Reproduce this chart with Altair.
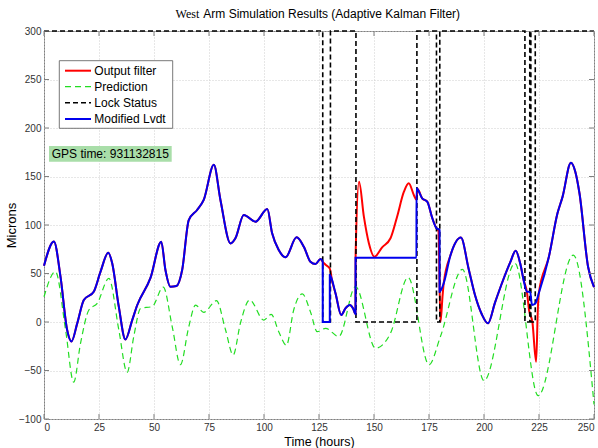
import altair as alt
import pandas as pd

# ---------------- data ----------------
blue_t = [0, 4.5, 7.5, 10.5, 12.5, 15.1, 18.1, 22.6, 25.7, 29.2, 31, 34, 37, 40.1, 42.4, 48.4, 53.3, 55.2,
          57.5, 60.2, 62.8, 65.8, 69.6, 72.6, 77.2, 80.2, 84.8, 87, 90.8, 96.1, 101.5, 103.7, 106.7, 109.8,
          114.8, 118.1, 121.1, 123.4, 125.7, 126.7, 126.71, 129.9, 129.91, 132.5, 135.1, 137, 139, 140.5,
          141.6, 141.61, 169.3, 169.31, 171.9, 174.2, 176.5, 178.4, 179.8, 179.81, 181.7, 184.8, 189.5, 193,
          196, 199, 201.8, 205, 208.7, 212, 214.4, 216.5, 218, 219.5, 221, 221.8, 223.3, 224.9, 229.5, 233.4,
          235.7, 239.5, 241.5, 243.4, 247.3, 250]
blue_v = [58, 83, 46.7, -8, -20, -1.4, 22.7, 31.2, 51.9, 71.4, 60.5, 15.8, -18, 2, 17.5, 45.4, 82.8, 53.6,
          36.4, 37.1, 53.6, 105, 115.5, 125.8, 162, 125.8, 81, 86.3, 110.3, 103.4, 116.5, 91.4, 74.2, 66.7,
          87.3, 77.6, 62.2, 59.8, 65, 62, 0, 0, 48.5, 29.6, 7.2, 14, 17.5, 14,
          8.2, 66.3, 66.3, 137.8, 127.5, 124, 107, 96.6, 95, 31.2, 40, 69, 87, 55,
          27, 8, -1.4, 20, 43.3, 62, 73.5, 60, 43.3, 31.2, 31, 17.5, 19, 29.6, 67.3, 112,
          129, 164.2, 155, 132.7, 57, 36]

red_t = [0, 4.5, 7.5, 10.5, 12.5, 15.1, 18.1, 22.6, 25.7, 29.2, 31, 34, 37, 40.1, 42.4, 48.4, 53.3, 55.2,
         57.5, 60.2, 62.8, 65.8, 69.6, 72.6, 77.2, 80.2, 84.8, 87, 90.8, 96.1, 101.5, 103.7, 106.7, 109.8,
         114.8, 118.1, 121.1, 123.4, 125.7, 126.7, 128, 129.9, 131, 132.5, 135.1, 137, 139, 140.5, 141.6,
         141.65, 143.2, 145.4, 147.7, 150.2, 153.7, 157.5, 160.5, 163.6, 165.8, 168.1, 169.3, 169.8, 171.9,
         174.2, 176.5, 178.4, 179.3, 180.2, 181.2, 181.7, 184.8, 189.5, 193, 196, 199, 201.8, 205, 208.7,
         212, 214.4, 216.5, 218, 219.5, 220.5, 222, 223.7, 224.5, 224.9, 229.5, 233.4, 235.7, 239.5, 241.5,
         243.4, 247.3, 250]
red_v = [58, 83, 46.7, -8, -20, -1.4, 22.7, 31.2, 51.9, 71.4, 60.5, 15.8, -18, 2, 17.5, 45.4, 82.8, 53.6,
         36.4, 37.1, 53.6, 105, 115.5, 125.8, 162, 125.8, 81, 86.3, 110.3, 103.4, 116.5, 91.4, 74.2, 66.7,
         87.3, 77.6, 62.2, 59.8, 65, 62, 59, 55, 42, 29.6, 7.2, 14, 17.5, 14, 8.2,
         70, 144.6, 108.6, 81, 67.3, 77, 86.3, 108.6, 134.3, 143, 131, 126, 137, 127.5,
         124, 107, 96.6, 94, 0, 28, 40, 69, 87, 55, 27, 8, -1.4, 20, 43.3,
         62, 73.5, 60, 43.3, 31.2, 12, 0, -41, 15, 29.6, 67.3, 112, 129, 164.2, 155,
         132.7, 57, 36]

green_t = [0, 5.2, 9.8, 13.5, 16.6, 20.4, 24.2, 29.5, 34, 37.8, 40.8, 43.9, 49.2, 54.2, 58.3, 62, 65.8,
           68.9, 72.6, 78.4, 82.5, 86, 89.3, 93.5, 99.9, 103.3, 106.7, 110.2, 113.5, 117.4, 121.1, 124.2,
           128, 134, 141.6, 150.7, 157.5, 165.5, 175, 180.2, 190.2, 200, 214.1, 224.6, 240.6, 250]
green_v = [26, 52, -8, -62, -22, 12.4, 19.3, 45, -8, -52, -15, 14, 16, 36, -5, -44, -5,
           17.5, 10, 22, -8, -34, -1, 22.7, 2, 7.9, -10, -24, 12.4, 29, 10.6, -10,
           -6.5, -15, 36.4, -27, -11.6, 46, -44, -15, 54.3, -60.5, 60.5, -76, 69, -85]

lock_t = [0, 126.7, 126.7, 130.2, 130.2, 141.8, 141.8, 169.5, 169.5, 178.4, 178.4, 179.9, 179.9, 218.6,
          218.6, 220.8, 220.8, 221.3, 221.3, 223.3, 223.3, 250]
lock_v = [300, 300, 0, 0, 300, 300, 0, 0, 300, 300, 0, 0, 300, 300, 0, 0, 300, 300, 0, 0, 300, 300]

x_ticks = [0, 25, 50, 75, 100, 125, 150, 175, 200, 225, 250]
y_ticks = [-100, -50, 0, 50, 100, 150, 200, 250, 300]

series_names = ["Output filter", "Prediction", "Lock Status", "Modified Lvdt"]
series_colors = ["#ff0000", "#22dd22", "#000000", "#0000ee"]
series_dash = [None, [6, 4], [5, 3], None]
series_width = [2, 1.2, 1.6, 2]
series_interp = ["monotone", "monotone", "linear", "monotone"]
series_data = [(red_t, red_v), (green_t, green_v), (lock_t, lock_v), (blue_t, blue_v)]

title_lead = "West"
title_rest = "Arm Simulation Results (Adaptive Kalman Filter)"
gps_label = "GPS time: 931132815"

# ---------------- build chart ----------------
rows = []
for name, (ts, vs) in zip(series_names, series_data):
    for i, (t, v) in enumerate(zip(ts, vs)):
        rows.append({"t": t, "v": v, "s": name, "i": i})
df = pd.DataFrame(rows)

FONT = "Liberation Sans"
W, H = 550, 388
xs = alt.Scale(domain=[0, 250], nice=False, zero=False)
ys = alt.Scale(domain=[-100, 300], nice=False, zero=False)

x_axis = alt.Axis(values=x_ticks, title="Time (hours)", grid=True, gridColor="#cfcfcf", gridDash=[1, 2],
                  ticks=False, domain=False, labelFontSize=10, labelColor="#333333", labelFont=FONT,
                  labelPadding=3, titleFont=FONT, titleFontSize=12.5, titleFontWeight="normal",
                  titleColor="#000000", titleY=16, titleBaseline="top")
y_axis = alt.Axis(values=y_ticks, title="Microns", grid=True, gridColor="#cfcfcf", gridDash=[1, 2],
                  ticks=False, domain=False, labelFontSize=10, labelColor="#333333", labelFont=FONT,
                  labelPadding=3, titleFont=FONT, titleFontSize=13, titleFontWeight="normal",
                  titleColor="#000000", titlePadding=0)

X = alt.X("t:Q", scale=xs, axis=x_axis)
Y = alt.Y("v:Q", scale=ys, axis=y_axis)

layers = []
# draw order: red, green, black, blue (blue on top)
for k, name in enumerate(series_names):
    kw = dict(color=series_colors[k], strokeWidth=series_width[k], interpolate=series_interp[k])
    if series_dash[k]:
        kw["strokeDash"] = series_dash[k]
    layer = alt.Chart(df).transform_filter(alt.datum.s == name).mark_line(**kw).encode(
        x=X, y=Y, order=alt.Order("i:Q"),
    )
    layers.append(layer)

# inward tick marks on all four sides (MATLAB style)
xt_df = pd.DataFrame({"t": x_ticks})
yt_df = pd.DataFrame({"v": y_ticks})
tick_color = "#7f7f7f"
layers.append(alt.Chart(xt_df).mark_rule(color=tick_color, strokeWidth=1).encode(
    x=X, y=alt.value(H), y2=alt.value(H - 5)))
layers.append(alt.Chart(xt_df).mark_rule(color=tick_color, strokeWidth=1).encode(
    x=X, y=alt.value(0), y2=alt.value(5)))
layers.append(alt.Chart(yt_df).mark_rule(color=tick_color, strokeWidth=1).encode(
    y=Y, x=alt.value(0), x2=alt.value(5)))
layers.append(alt.Chart(yt_df).mark_rule(color=tick_color, strokeWidth=1).encode(
    y=Y, x=alt.value(W), x2=alt.value(W - 5)))

one = pd.DataFrame({"a": [0]})

# legend box
lx0, ly0, lx1, ly1 = 15.3, 29.7, 128.7, 97.3
layers.append(alt.Chart(one).mark_rect(fill="white", stroke="#555555", strokeWidth=0.8).encode(
    x=alt.value(lx0), x2=alt.value(lx1), y=alt.value(ly0), y2=alt.value(ly1)))
row_y = [39.7, 55.7, 71.7, 88.0]
for k, name in enumerate(series_names):
    kw = dict(color=series_colors[k], strokeWidth=series_width[k])
    if series_dash[k]:
        kw["strokeDash"] = series_dash[k]
    layers.append(alt.Chart(one).mark_rule(**kw).encode(
        x=alt.value(21), x2=alt.value(47), y=alt.value(row_y[k])))
    layers.append(alt.Chart(one).mark_text(text=name, font=FONT, fontSize=12, align="left",
                                           baseline="middle", color="#000000").encode(
        x=alt.value(50.3), y=alt.value(row_y[k])))

# GPS time box
layers.append(alt.Chart(one).mark_rect(fill="#a9dea9").encode(
    x=alt.value(5), x2=alt.value(127.7), y=alt.value(115), y2=alt.value(130.7)))
layers.append(alt.Chart(one).mark_text(text=gps_label, font=FONT, fontSize=12, align="left",
                                       baseline="middle", color="#000000").encode(
    x=alt.value(7.7), y=alt.value(123)))

# title (mixed fonts)
layers.append(alt.Chart(one).mark_text(text=title_lead, font="Liberation Serif", fontSize=12,
                                       align="right", baseline="alphabetic", color="#000000").encode(
    x=alt.value(155.3), y=alt.value(-13.5)))
layers.append(alt.Chart(one).mark_text(text=title_rest, font=FONT, fontSize=12, align="left",
                                       baseline="alphabetic", color="#000000").encode(
    x=alt.value(159.3), y=alt.value(-13.5)))

chart = alt.layer(*layers).properties(
    width=W, height=H,
    padding={"left": 44, "top": 31, "right": 4, "bottom": 29},
    autosize=alt.AutoSizeParams(type="none"),
    background="white",
).configure_view(stroke="#7f7f7f", strokeWidth=1)

chart.save("out.html", embed_options={"renderer": "svg", "actions": False})
